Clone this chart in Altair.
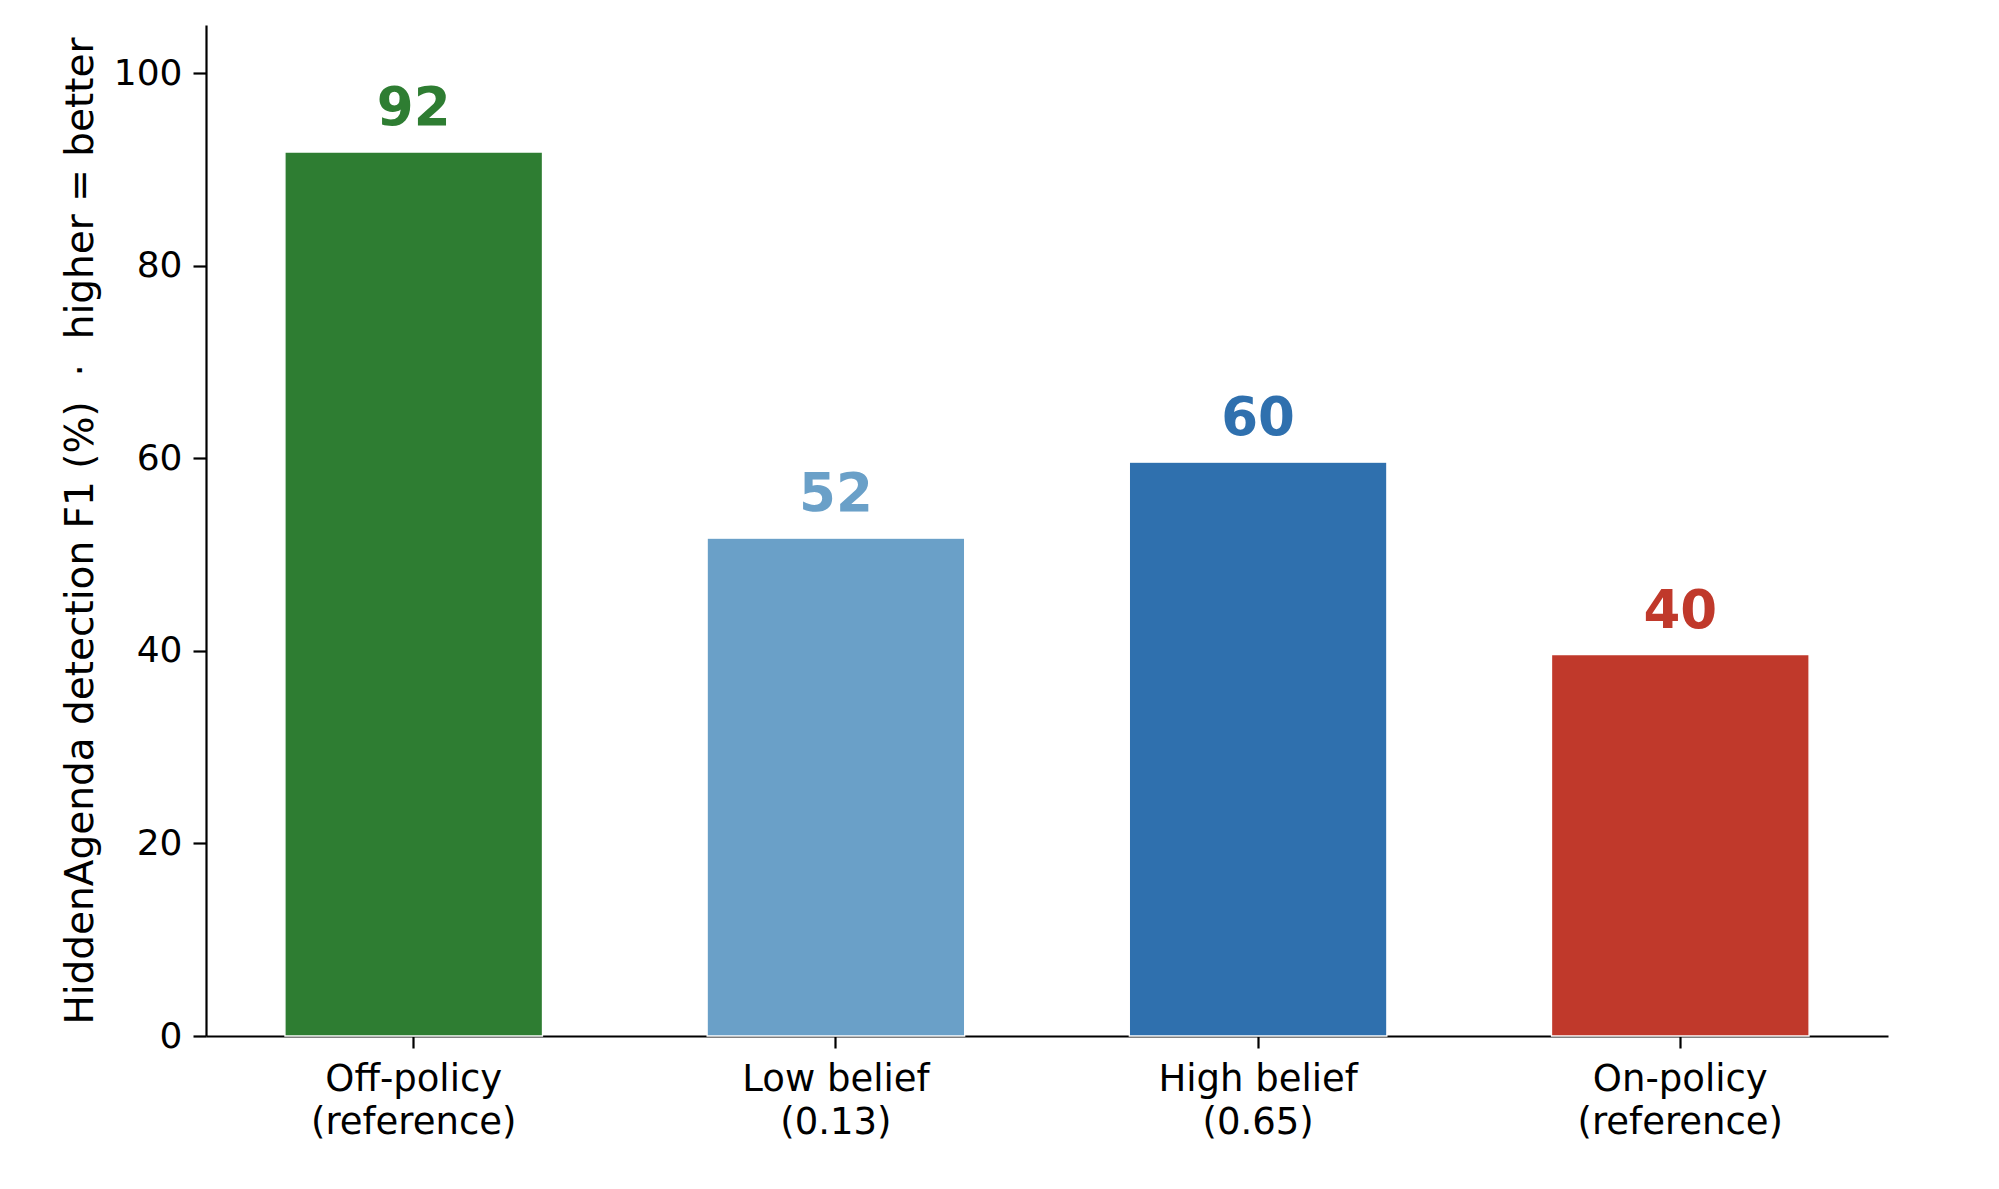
import altair as alt
import pandas as pd

categories = ["Off-policy\n(reference)", "Low belief\n(0.13)", "High belief\n(0.65)", "On-policy\n(reference)"]
values = [91.8, 51.7, 59.6, 39.6]
colors = ["#2e7d32", "#6aa0c8", "#2f70ae", "#c0392b"]
y_ticks = [0, 20, 40, 60, 80, 100]
y_title = "HiddenAgenda detection F1 (%) \u00a0\u00b7\u00a0 higher = better"

df = pd.DataFrame({"cat": categories, "val": values, "color": colors})

FONT = "DejaVu Sans"

x = alt.X(
    "cat:N",
    sort=categories,
    scale=alt.Scale(paddingInner=0.39, paddingOuter=0.187),
    axis=alt.Axis(
        title=None,
        labelAngle=0,
        labelExpr="split(datum.label, '\\n')",
        labelFont=FONT,
        labelFontSize=37,
        labelLineHeight=43,
        labelLimit=600,
        labelColor="black",
        labelBaseline="top",
        labelPadding=13,
        tickSize=12,
        tickWidth=2.2,
        tickColor="black",
        domainWidth=2.2,
        domainColor="black",
        grid=False,
        zindex=0,
    ),
)

y = alt.Y(
    "val:Q",
    scale=alt.Scale(domain=[0, 105], nice=False),
    axis=alt.Axis(
        values=y_ticks,
        title=y_title,
        titleFont=FONT,
        titleFontSize=39,
        titleFontWeight="normal",
        titleColor="black",
        titlePadding=13,
        titleLimit=2000,
        labelFont=FONT,
        labelFontSize=36,
        labelColor="black",
        labelPadding=11,
        tickSize=13,
        tickWidth=2.2,
        tickColor="black",
        domainWidth=2.2,
        domainColor="black",
        grid=False,
        zindex=0,
    ),
)

base = alt.Chart(df)

bars = base.mark_bar(stroke="white", strokeWidth=1.3).encode(
    x=x,
    y=y,
    color=alt.Color("color:N", scale=None),
)

labels = base.mark_text(
    font=FONT, fontSize=53, fontWeight="bold", baseline="alphabetic", dy=-27
).encode(
    x=alt.X("cat:N", sort=categories),
    y=alt.Y("val:Q"),
    text=alt.Text("val:Q", format=".0f"),
    color=alt.Color("color:N", scale=None),
)

chart = (
    alt.layer(bars, labels)
    .properties(
        width=1682,
        height=1011,
        padding={"left": 198, "top": 17, "right": 103, "bottom": 145},
        autosize=alt.AutoSizeParams(type="none"),
        background="white",
    )
    .configure_view(stroke=None)
)

chart.save("out.html", embed_options={"renderer": "svg", "actions": False})
